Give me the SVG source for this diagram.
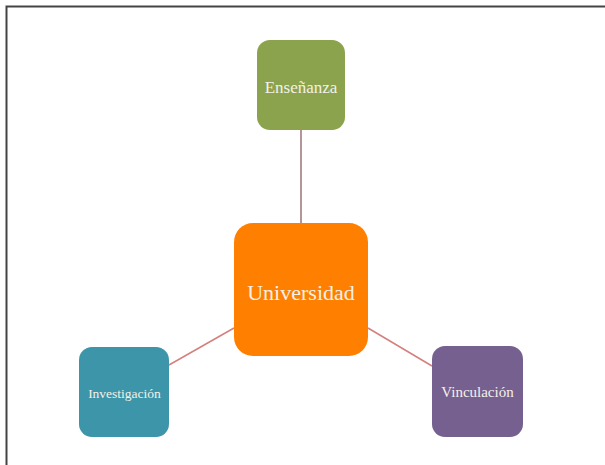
<svg xmlns="http://www.w3.org/2000/svg" width="605" height="465" viewBox="0 0 605 465">
<style>
.lbl{font-family:"Liberation Serif","Times New Roman",serif;fill:#F4F1E8;text-anchor:middle;dominant-baseline:central}
.conn{fill:none;stroke-width:1.5}
</style>
<rect width="605" height="465" fill="#ffffff"/>
<g id="frame">
<path d="M6.5 465 V6.5 H605" fill="none" stroke="#444444" stroke-width="2"/>
</g>
<g id="connectors">
<line class="conn" x1="301" y1="130" x2="301" y2="223" stroke="#9C7272"/>
<line class="conn" x1="169" y1="365" x2="234" y2="328" stroke="#D4807C"/>
<line class="conn" x1="368" y1="328" x2="432" y2="366" stroke="#D4807C"/>
</g>
<g id="ensenanza">
<rect x="257" y="40" width="88" height="90" rx="13" fill="#8AA34C"/>
<text class="lbl" x="301" y="87" font-size="17">Enseñanza</text>
</g>
<g id="universidad">
<rect x="234" y="223" width="134" height="133" rx="19" fill="#FF7F00"/>
<text class="lbl" x="301" y="292" font-size="22">Universidad</text>
</g>
<g id="investigacion">
<rect x="79" y="347" width="90" height="90" rx="13" fill="#3C95A9"/>
<text class="lbl" x="124.5" y="393" font-size="13.5">Investigación</text>
</g>
<g id="vinculacion">
<rect x="432" y="346" width="91" height="91" rx="13" fill="#76608F"/>
<text class="lbl" x="477.5" y="392" font-size="15">Vinculación</text>
</g>
</svg>
